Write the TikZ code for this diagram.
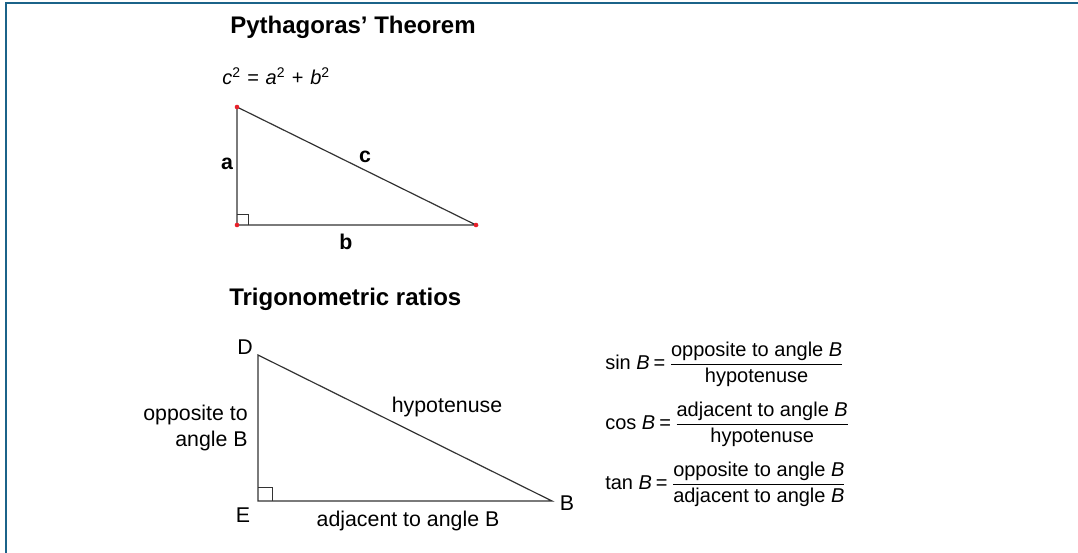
\documentclass[tikz,border=0pt]{standalone}
\usepackage{amsmath}
\usepackage{fontspec}
\setmainfont{Liberation Sans}
\usetikzlibrary{positioning}
\definecolor{framecol}{HTML}{1B6389}
\definecolor{sidecol}{HTML}{333333}
\definecolor{dotcol}{HTML}{E8202A}

\begin{document}
\begin{tikzpicture}[x=0.75pt, y=-0.75pt,
  side/.style={sidecol, line width=0.9pt},
  ttl/.style={font=\fontsize{18}{22}\selectfont\bfseries, anchor=west, inner sep=0pt},
  blbl/.style={font=\fontsize{16}{19}\selectfont\bfseries, inner sep=0pt},
  lbl/.style={font=\fontsize{16}{19}\selectfont, inner sep=0pt},
  ratio/.style={font=\fontsize{15}{18}\selectfont, anchor=west, inner sep=0pt}]
  \useasboundingbox (0,0) rectangle (1078,553);

  % Frame (left and top edges)
  \draw[framecol, line width=2pt] (6,553) -- (6,3) -- (1078,3);

  % Pythagoras
  \node[ttl] (pytitle) at (230,27) {Pythagoras’ Theorem};
  \node[font=\fontsize{15}{18}\selectfont, anchor=west, inner sep=0pt] (pyform) at (222,76)
    {\textit{c}\textsuperscript{2}\kern5pt=\kern5pt\textit{a}\textsuperscript{2}\kern5pt+\kern5pt\textit{b}\textsuperscript{2}};

  \coordinate (pa) at (237,107);
  \coordinate (pc) at (237,225);
  \coordinate (pb) at (476,225);
  \draw[side] (pa) -- (pc) -- (pb) -- cycle;
  \draw[side, line width=0.6pt] (237,214) -| (248,225);
  \foreach \v in {pa,pc,pb}
    \fill[dotcol] (\v) circle (2.3);
  \node[blbl] (la) at (227,164) {a};
  \node[blbl] (lc) at (365,157) {c};
  \node[blbl] (lb) at (346,242) {b};

  % Trigonometric ratios
  \node[ttl] (trtitle) at (229,299) {Trigonometric ratios};

  \coordinate (vd) at (258,355);
  \coordinate (ve) at (258,501);
  \coordinate (vb) at (552,501);
  \draw[side] (vd) -- (ve) -- (vb) -- cycle;
  \draw[side, line width=0.6pt] (258,487) -| (272,501);
  \node[lbl] (nd) at (245,347) {D};
  \node[lbl] (ne) at (243,515) {E};
  \node[lbl] (nb) at (567,503) {B};
  \node[lbl] (hyp) at (447,407) {hypotenuse};
  \node[lbl, anchor=east, align=right] (opp) at (248,428)
    {opposite to\\angle B};
  \node[lbl] (adj) at (408,521) {adjacent to angle B};

  \node[ratio] (sinr) at (605,364)
    {$\text{sin\ }\textit{B}\kern3pt\text{=}\kern3pt\dfrac{\text{opposite to angle }\textit{B}}{\text{hypotenuse}}$};
  \node[ratio] (cosr) at (605,424)
    {$\text{cos\ }\textit{B}\kern3pt\text{=}\kern3pt\dfrac{\text{adjacent to angle }\textit{B}}{\text{hypotenuse}}$};
  \node[ratio] (tanr) at (605,484)
    {$\text{tan\ }\textit{B}\kern3pt\text{=}\kern3pt\dfrac{\text{opposite to angle }\textit{B}}{\text{adjacent to angle }\textit{B}}$};
\end{tikzpicture}
\end{document}
